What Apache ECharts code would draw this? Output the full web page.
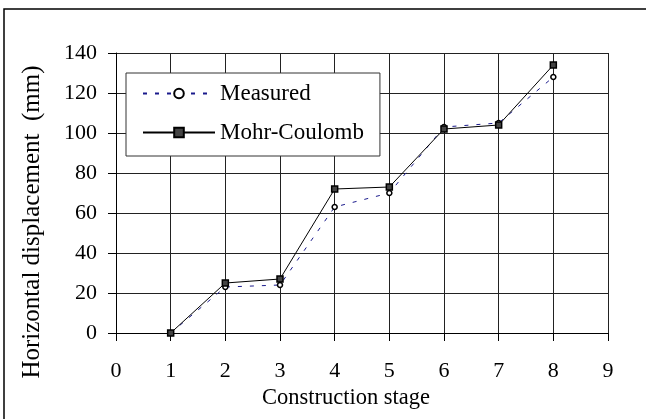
<!DOCTYPE html>
<html>
<head>
<meta charset="utf-8">
<script src="https://cdn.jsdelivr.net/npm/echarts@6/dist/echarts.min.js"></script>
<style>
  html, body { margin: 0; padding: 0; background: #fff; }
  #chart { width: 646px; height: 419px; }
</style>
</head>
<body>
<div id="chart"></div>
<script>
// Horizontal wall displacement per construction stage
const stages = [1, 2, 3, 4, 5, 6, 7, 8];
const measured = [0, 23, 24, 63, 70, 103, 105, 128];
const mohrCoulomb = [0, 25, 27, 72, 73, 102, 104, 134];
const xTicks = [0, 1, 2, 3, 4, 5, 6, 7, 8, 9];
const yTicks = [0, 20, 40, 60, 80, 100, 120, 140];

const FONT = '"Liberation Serif", "DejaVu Serif", serif';

const pairs = (xs, ys) => xs.map((x, i) => [x, ys[i]]);

const chart = echarts.init(document.getElementById('chart'), null, { renderer: 'canvas' });

chart.setOption({
  animation: false,
  backgroundColor: '#fff',
  textStyle: { fontFamily: FONT, color: '#000' },
  grid: { left: 116, right: 38, top: 53, bottom: 86, containLabel: false },
  graphic: [{
    type: 'rect',
    shape: { x: 4, y: 9, width: 700, height: 500 },
    style: { fill: 'none', stroke: '#000', lineWidth: 1.5 },
    silent: true
  }],
  legend: {
    orient: 'vertical',
    left: 126,
    top: 73,
    padding: [9, 16, 12, 16],
    itemGap: 16,
    itemWidth: 72,
    itemHeight: 12,
    borderColor: '#333',
    borderWidth: 1,
    borderRadius: 0,
    backgroundColor: '#fff',
    textStyle: { fontFamily: FONT, fontSize: 23, color: '#000' },
    data: ['Measured', 'Mohr-Coulomb']
  },
  xAxis: {
    type: 'value',
    min: xTicks[0],
    max: xTicks[xTicks.length - 1],
    interval: 1,
    name: 'Construction stage',
    nameLocation: 'middle',
    nameGap: 51,
    nameTextStyle: { fontFamily: FONT, fontSize: 22.5, color: '#000', padding: [0, 32, 0, 0] },
    axisLine: { show: true, onZero: false, lineStyle: { color: '#000', width: 1 } },
    axisTick: { show: true, inside: false, length: 8, lineStyle: { color: '#000' } },
    axisLabel: { margin: 27, fontFamily: FONT, fontSize: 22, color: '#000' },
    splitLine: { show: true, lineStyle: { color: '#222', width: 1 } }
  },
  yAxis: {
    type: 'value',
    min: yTicks[0],
    max: yTicks[yTicks.length - 1],
    interval: 20,
    name: 'Horizontal displacement  (mm)',
    nameLocation: 'middle',
    nameGap: 71,
    nameRotate: 90,
    nameTextStyle: { fontFamily: FONT, fontSize: 25, color: '#000', padding: [0, 58, 0, 0] },
    axisLine: { show: true, lineStyle: { color: '#000', width: 1 } },
    axisTick: { show: true, inside: false, length: 8, lineStyle: { color: '#000' } },
    axisLabel: { margin: 19, fontFamily: FONT, fontSize: 22, color: '#000' },
    splitLine: { show: true, lineStyle: { color: '#222', width: 1 } }
  },
  series: [
    {
      name: 'Measured',
      type: 'line',
      data: pairs(stages, measured),
      symbol: 'circle',
      symbolSize: 5,
      showAllSymbol: true,
      lineStyle: { color: '#1a1a8c', width: 1, type: [4, 8] },
      itemStyle: { color: '#fff', borderColor: '#000', borderWidth: 1.5 },
      z: 2
    },
    {
      name: 'Mohr-Coulomb',
      type: 'line',
      data: pairs(stages, mohrCoulomb),
      symbol: 'rect',
      symbolSize: 6,
      showAllSymbol: true,
      lineStyle: { color: '#000', width: 1 },
      itemStyle: { color: '#444', borderColor: '#000', borderWidth: 1.5 },
      z: 3
    }
  ]
});
</script>
</body>
</html>
